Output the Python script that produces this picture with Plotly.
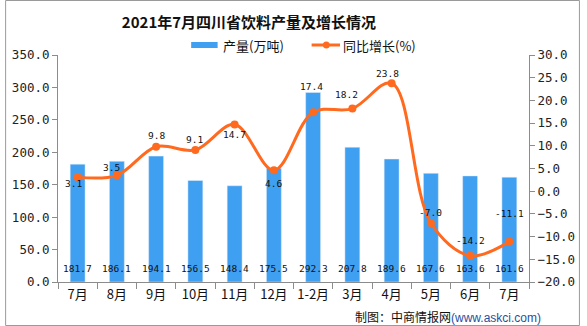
import plotly.graph_objects as go

months = ["7月", "8月", "9月", "10月", "11月", "12月", "1-2月", "3月", "4月", "5月", "6月", "7月"]
output = [181.7, 186.1, 194.1, 156.5, 148.4, 175.5, 292.3, 207.8, 189.6, 167.6, 163.6, 161.6]
growth = [3.1, 3.5, 9.8, 9.1, 14.7, 4.6, 17.4, 18.2, 23.8, -7.0, -14.2, -11.1]

# label offsets (px) for growth labels, as placed in the reference
g_off = [(-4, -6), (-5, 8), (0, 11), (-1, 10), (0, -10), (0, -13),
         (-2, 26), (-6, 14), (-4, 10), (0, 10), (0, 15), (0, 28)]

W, H = 587, 326
L, R, T, B = 54, 52, 55, 44
PW, PH = W - L - R, H - T - B

def px(x):
    return (x - L) / PW

def py(y):
    return (H - B - y) / PH

BLUE = "#3F9FF0"
ORANGE = "#FF6A1F"
NUMFONT = "DejaVu Sans Mono"
CJK = "Noto Sans CJK SC"

xs = list(range(len(months)))

fig = go.Figure()
fig.add_trace(go.Bar(x=xs, y=output, marker_color=BLUE, width=0.38, name="产量(万吨)",
                     showlegend=False))
fig.add_trace(go.Scatter(x=xs, y=growth, yaxis="y2", mode="lines+markers",
                         line=dict(color=ORANGE, width=3, shape="spline", smoothing=1.0),
                         marker=dict(color=ORANGE, size=8), name="同比增长(%)",
                         showlegend=False))

ann = []
for i, v in enumerate(output):
    ann.append(dict(x=i, y=0, xref="x", yref="y", text=f"{v:.1f}", showarrow=False,
                    yshift=14, font=dict(family=NUMFONT, size=9.5, color="#111")))
for i, v in enumerate(growth):
    dx, dy = g_off[i]
    ann.append(dict(x=i, y=v, xref="x", yref="y2", text=f"{v:.1f}", showarrow=False,
                    xshift=dx, yshift=dy, font=dict(family=NUMFONT, size=9.5, color="#111")))

# legend (manual)
ann.append(dict(x=px(220), y=py(45), xref="paper", yref="paper", text="产量(万吨)",
                showarrow=False, xanchor="left", yanchor="middle",
                font=dict(family=CJK, size=13, color="#111")))
ann.append(dict(x=px(343), y=py(45), xref="paper", yref="paper", text="同比增长(%)",
                showarrow=False, xanchor="left", yanchor="middle",
                font=dict(family=CJK, size=13, color="#111")))
# source
ann.append(dict(x=px(549), y=py(316), xref="paper", yref="paper",
                text="制图：中商情报网<span style='color:#1F4FA0;font-family:Liberation Sans'>(www.askci.com)</span>",
                showarrow=False, xanchor="right", yanchor="middle",
                font=dict(family=CJK, size=12, color="#111")))

shapes = [
    dict(type="rect", xref="paper", yref="paper", x0=px(190), x1=px(217), y0=py(48), y1=py(42),
         fillcolor=BLUE, line=dict(width=0)),
    dict(type="line", xref="paper", yref="paper", x0=px(313), x1=px(342), y0=py(45), y1=py(45),
         line=dict(color=ORANGE, width=3)),
    dict(type="circle", xref="paper", yref="paper", x0=px(324.5), x1=px(331.5), y0=py(48.5), y1=py(41.5),
         fillcolor=ORANGE, line=dict(width=0)),
    dict(type="rect", xref="paper", yref="paper", x0=px(0.5), x1=px(W - 0.5), y0=py(H - 0.5), y1=py(0.5),
         line=dict(color="#9A9A9A", width=1), fillcolor="rgba(0,0,0,0)", layer="below"),
]

axis_common = dict(showgrid=False, zeroline=False, showline=True, linecolor="#8C8C8C",
                   linewidth=1, ticks="outside", ticklen=5, tickcolor="#8C8C8C",
                   tickfont=dict(family=NUMFONT, size=12.5, color="#222"))

fig.update_layout(
    width=W, height=H, margin=dict(l=L, r=R, t=T, b=B),
    paper_bgcolor="white", plot_bgcolor="white",
    title=dict(text="<b>2021年7月四川省饮料产量及增长情况</b>", x=249 / W, y=1 - 23 / H,
               xanchor="center", yanchor="middle", xref="container", yref="container",
               font=dict(family=CJK, size=15, color="#111")),
    xaxis=dict(range=[-0.5, len(months) - 0.5], tickvals=xs, ticktext=months,
               showgrid=False, zeroline=False, showline=True, linecolor="#8C8C8C",
               ticks="", tickfont=dict(family=CJK, size=13, color="#111"),
               minor=dict(tickvals=[i - 0.5 for i in range(len(months) + 1)], ticks="outside",
                          ticklen=6, tickcolor="#8C8C8C")),
    yaxis=dict(range=[0, 350], dtick=50, tickformat=".1f", **axis_common),
    yaxis2=dict(range=[-20, 30], dtick=5, tickformat=".1f", overlaying="y", side="right",
                **axis_common),
    annotations=ann, shapes=shapes, showlegend=False, bargap=0.62,
)

fig.write_html("out.html")
